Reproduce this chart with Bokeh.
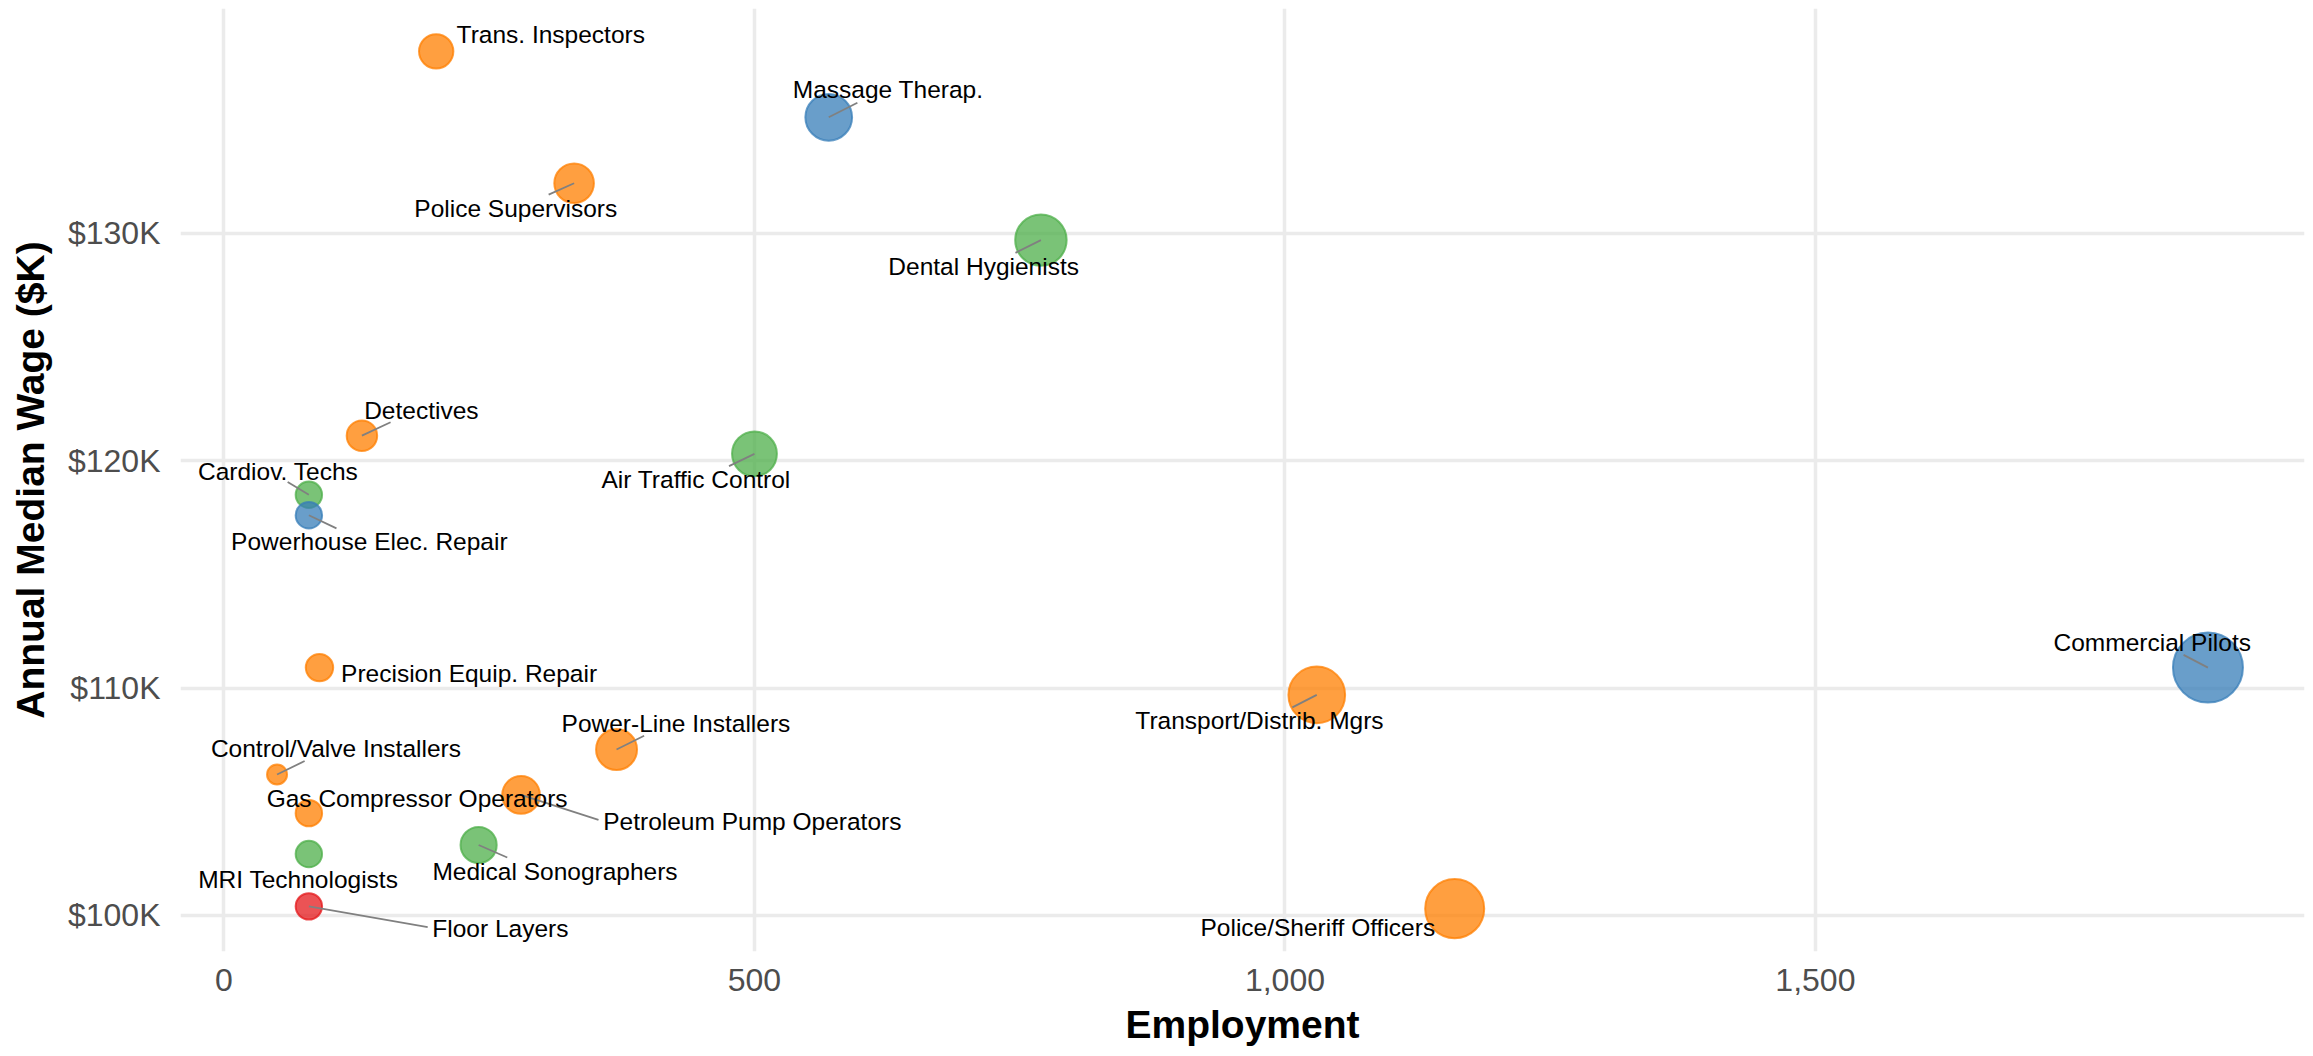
import math
from bokeh.plotting import figure
from bokeh.models import (ColumnDataSource, Range1d, FixedTicker, NumeralTickFormatter,
                          PrintfTickFormatter, CategoricalColorMapper)
from bokeh.core.properties import value
from bokeh.embed import file_html
from bokeh.resources import INLINE

# ---------------- data ----------------
occupations = ["Trans. Inspectors", "Police Supervisors", "Massage Therap.", "Dental Hygienists",
               "Detectives", "Air Traffic Control", "Cardiov. Techs", "Powerhouse Elec. Repair",
               "Precision Equip. Repair", "Power-Line Installers", "Control/Valve Installers",
               "Gas Compressor Operators", "Petroleum Pump Operators", "MRI Technologists",
               "Medical Sonographers", "Floor Layers", "Transport/Distrib. Mgrs",
               "Police/Sheriff Officers", "Commercial Pilots"]
employment = [200, 330, 570, 770, 130, 500, 80, 80, 90, 370, 50, 80, 280, 80, 240, 80, 1030, 1160, 1870]
wage_k = [138.0, 132.2, 135.1, 129.7, 121.1, 120.3, 118.5, 117.6, 110.9, 107.3, 106.2,
          104.5, 105.3, 102.7, 103.1, 100.4, 109.7, 100.3, 110.9]
cluster = ["C2", "C2", "C1", "C3", "C2", "C3", "C3", "C1", "C2", "C2", "C2",
           "C2", "C2", "C3", "C3", "C4", "C2", "C2", "C1"]
cluster_names = ["C1", "C2", "C3", "C4"]
x_ticks = [0, 500, 1000, 1500]
y_ticks = [100, 110, 120, 130]
x_title = "Employment"
y_title = "Annual Median Wage ($K)"

# label layout (repelled label centres and leader-line ends, data units)
lab_x = [308, 275, 626, 716, 186, 445, 51, 137, 231, 426, 105.5, 182, 498, 70, 312, 260.5, 976, 1031, 1817.5]
lab_y = [138.72, 131.11, 136.32, 128.55, 122.21, 119.18, 119.54, 116.45, 110.62, 108.44, 107.34,
         105.15, 104.13, 101.59, 101.94, 99.41, 108.57, 99.46, 112.02]
nan = float("nan")
seg_x = [nan, 306, 597, 746, 157, 476, 60, 106, nan, 396, 76, nan, 353, nan, 267, 192, 1007, nan, 1847]
seg_y = [nan, 131.70, 135.74, 129.14, 121.69, 119.76, 119.06, 117.02, nan, 107.90, 106.79,
         nan, 104.20, nan, 102.55, 99.49, 109.15, nan, 111.46]

# ---------------- scales ----------------
emin, emax = min(employment), max(employment)
dmin, dmax = 20.0, 70.0
sizes = [dmin + (dmax - dmin) * math.sqrt((e - emin) / (emax - emin)) for e in employment]

def expand(lo, hi, f=0.05):
    d = (hi - lo) * f
    return lo - d, hi + d

xr = expand(min(employment), max(employment))
yr = expand(min(wage_k), max(wage_k))

FONT = "Liberation Sans"
W, H = 2308, 1056
BL, BR, BT, BB = 180, 4, 8, 105

p = figure(width=W, height=H, output_backend="svg", toolbar_location=None,
           x_range=Range1d(*xr), y_range=Range1d(*yr),
           min_border_left=BL, min_border_right=BR, min_border_top=BT, min_border_bottom=BB)
p.outline_line_color = None
p.background_fill_color = "white"
p.border_fill_color = "white"

# grid
for g in (p.xgrid, p.ygrid):
    g.grid_line_color = "#EBEBEB"
    g.grid_line_width = 3.5
    g.minor_grid_line_color = None

# axes
p.xaxis.ticker = FixedTicker(ticks=x_ticks)
p.yaxis.ticker = FixedTicker(ticks=y_ticks)
p.xaxis.formatter = NumeralTickFormatter(format="0,0")
p.yaxis.formatter = PrintfTickFormatter(format="$%dK")
for ax in (p.xaxis[0], p.yaxis[0]):
    ax.axis_line_color = None
    ax.major_tick_line_color = None
    ax.minor_tick_line_color = None
    ax.major_tick_out = 0
    ax.major_tick_in = 0
    ax.major_label_text_font = FONT
    ax.major_label_text_font_size = "32px"
    ax.major_label_text_color = "#4D4D4D"
    ax.axis_label_text_font = FONT
    ax.axis_label_text_font_size = "39px"
    ax.axis_label_text_font_style = "bold"
    ax.axis_label_text_color = "black"
p.xaxis.axis_label = x_title
p.yaxis.axis_label = y_title
p.xaxis.major_label_standoff = 17
p.xaxis.axis_label_standoff = 9
p.yaxis.major_label_standoff = 20
p.yaxis.axis_label_standoff = 13

# points
src = ColumnDataSource(dict(x=employment, y=wage_k, name=occupations, cl=cluster, size=sizes))
cmap = CategoricalColorMapper(factors=cluster_names,
                              palette=["#377EB8", "#FF7F00", "#4DAF4A", "#E41A1C"])
p.scatter("x", "y", size="size", source=src,
          fill_color={"field": "cl", "transform": cmap}, fill_alpha=0.75,
          line_color={"field": "cl", "transform": cmap}, line_alpha=0.75, line_width=2)

# leader segments
sx0, sy0, sx1, sy1 = [], [], [], []
for x, y, ex, ey in zip(employment, wage_k, seg_x, seg_y):
    if not math.isnan(ex):
        sx0.append(x); sy0.append(y); sx1.append(ex); sy1.append(ey)
p.segment(x0=sx0, y0=sy0, x1=sx1, y1=sy1, line_color="#808080", line_width=1.8)

# labels
lsrc = ColumnDataSource(dict(x=lab_x, y=lab_y, t=occupations))
p.text("x", "y", text="t", source=lsrc, text_font=value(FONT), text_font_size=value("24.5px"),
       text_align="center", text_baseline="middle", text_color="black")

open("out.html", "w").write(file_html(p, INLINE))
